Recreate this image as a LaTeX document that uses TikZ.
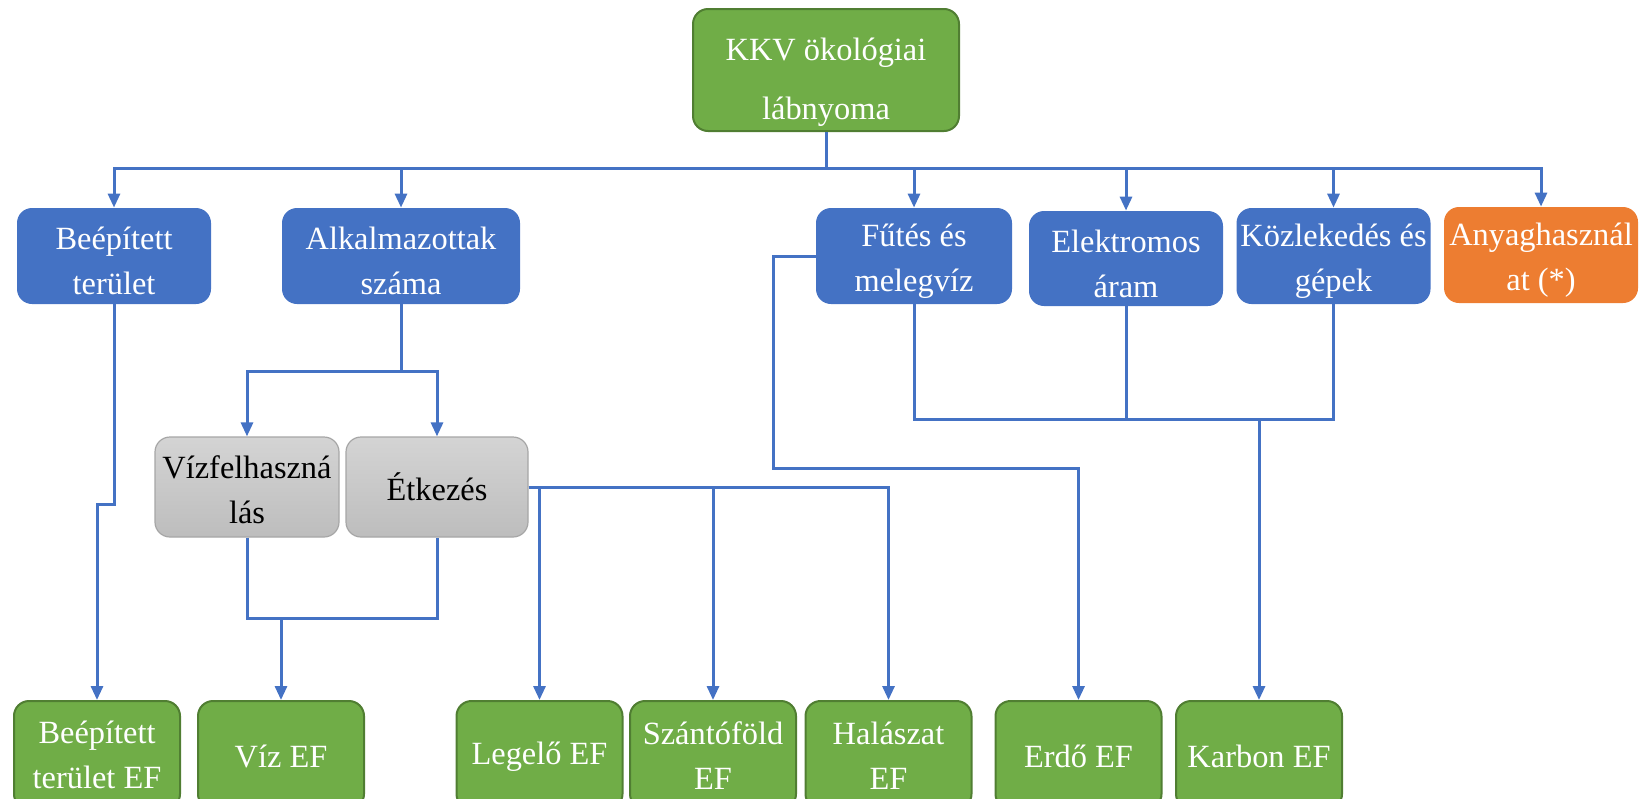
\documentclass[tikz,border=0pt]{standalone}
\usepackage{fontspec}
\setmainfont{Liberation Serif}
\usetikzlibrary{arrows.meta}

\definecolor{efgreen}{HTML}{70AD47}
\definecolor{efgreenline}{HTML}{507E32}
\definecolor{catblue}{HTML}{4472C4}
\definecolor{matorange}{HTML}{ED7D31}
\definecolor{subgrayhi}{HTML}{D4D4D4}
\definecolor{subgraylo}{HTML}{BDBDBD}
\definecolor{subgrayline}{HTML}{A6A6A6}

\begin{document}
\begin{tikzpicture}[x=0.5pt,y=-0.5pt,>={Triangle[length=7pt,width=6pt]}]
        % footprint tree, drawn in pixel units from the top left
        \tikzstyle{basebox} = [rectangle,rounded corners=7.5pt,inner sep=0pt,align=center,font=\fontsize{16.2}{22.5}\selectfont];
        \tikzstyle{rootbox} = [basebox,fill=efgreen,draw=efgreenline,line width=1pt,text=white,minimum width=133pt,minimum height=61pt,font=\fontsize{16.2}{29.5}\selectfont,text height=52.5pt];
        \tikzstyle{catbox} = [basebox,fill=catblue,text=white,minimum width=97pt,minimum height=48pt,text height=39pt];
        \tikzstyle{matbox} = [catbox,fill=matorange];
        \tikzstyle{subbox} = [basebox,top color=subgrayhi,bottom color=subgraylo,draw=subgrayline,line width=0.6pt,minimum width=92pt,minimum height=50pt,text height=37pt];
        \tikzstyle{efbox} = [basebox,fill=efgreen,draw=efgreenline,line width=1pt,text=white,minimum width=83pt,minimum height=54pt,text height=34pt];
        \tikzstyle{link} = [draw=catblue,line width=1.5pt];

        \useasboundingbox (0,0) rectangle (1641,798);
        \clip (0,0) rectangle (1641,798);

        \node[rootbox] (kkv) at (826,70) {KKV ökológiai\\lábnyoma};

        \node[catbox] (beep) at (114,256) {Beépített\\terület};
        \node[catbox,minimum width=119pt] (alk) at (401,256) {Alkalmazottak\\száma};
        \node[catbox,minimum width=98pt] (futes) at (914,256) {Fűtés és\\melegvíz};
        \node[catbox,minimum height=47.5pt] (elek) at (1126,258.5) {Elektromos\\áram};
        \node[catbox] (kozl) at (1333.5,256) {Közlekedés és\\gépek};
        \node[matbox] (anyag) at (1541,255) {Anyaghasznál\\at (*)};

        \node[subbox] (viz) at (247,487) {Vízfelhaszná\\lás};
        \node[subbox,minimum width=91pt,text height=14pt] (etk) at (437,487) {Étkezés};

        \node[efbox] (beepef) at (97,755) {Beépített\\terület EF};
        \node[efbox,text height=13pt] (vizef) at (281,755) {Víz EF};
        \node[efbox,text height=13pt] (legelo) at (539.5,755) {Legelő EF};
        \node[efbox] (szanto) at (713,755) {Szántóföld\\EF};
        \node[efbox] (halasz) at (888.5,755) {Halászat\\EF};
        \node[efbox,text height=13pt] (erdo) at (1078.5,755) {Erdő EF};
        \node[efbox,text height=13pt] (karbon) at (1259,755) {Karbon EF};

        \coordinate (bus) at (826,168);
        \coordinate (beepjog) at (97,504);
        \coordinate (alkfork) at (401,371);
        \coordinate (vizjoin) at (281,618);
        \coordinate (futesbend) at (773,468);
        \coordinate (energybus) at (1259,419);

        \draw[link] (kkv.south) -- (bus);
        \draw[link,->] (bus) -| (beep.north);
        \draw[link,->] (bus) -| (alk.north);
        \draw[link,->] (bus) -| (futes.north);
        \draw[link,->] (bus) -| (elek.north);
        \draw[link,->] (bus) -| (kozl.north);
        \draw[link,->] (bus) -| (anyag.north);

        \draw[link,->] (beep.south) |- (beepjog) -- (beepef.north);

        \draw[link] (alk.south) -- (alkfork);
        \draw[link,->] (alkfork) -| (viz.north);
        \draw[link,->] (alkfork) -| (etk.north);

        \draw[link] (viz.south) |- (vizjoin) -| (etk.south);
        \draw[link,->] (vizjoin) -- (vizef.north);

        \draw[link,->] (etk.east) -| (legelo.north);
        \draw[link,->] (etk.east) -| (szanto.north);
        \draw[link,->] (etk.east) -| (halasz.north);

        \draw[link,->] (futes.west) -| (futesbend) -| (erdo.north);

        \draw[link] (futes.south) |- (energybus);
        \draw[link] (elek.south) |- (energybus);
        \draw[link] (kozl.south) |- (energybus);
        \draw[link,->] (energybus) -- (karbon.north);

    \end{tikzpicture}
\end{document}
